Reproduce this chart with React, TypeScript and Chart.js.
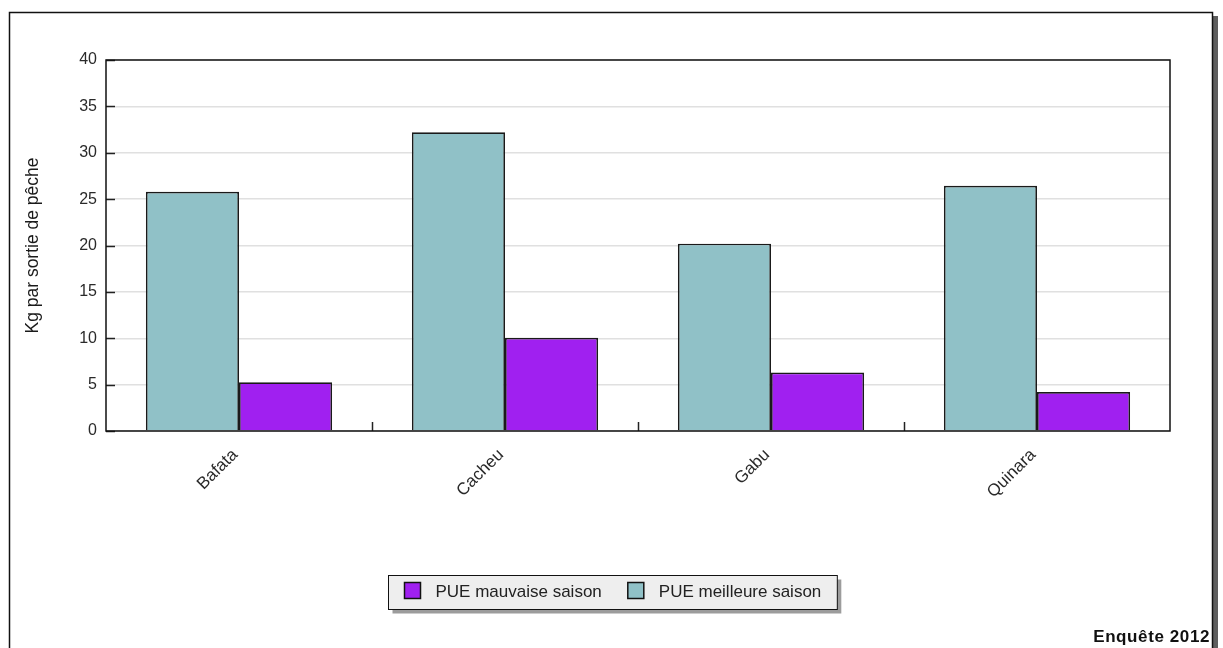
import React, { useEffect, useRef } from 'react';
import { Chart, registerables } from 'chart.js';

Chart.register(...registerables);

const categories = ['Bafata', 'Cacheu', 'Gabu', 'Quinara'];
const meilleureSaison = [25.8, 32.2, 20.2, 26.45];
const mauvaiseSaison = [5.25, 10.05, 6.3, 4.2];
const seriesLabels = ['PUE meilleure saison', 'PUE mauvaise saison'];
const seriesColors = ['#90C1C7', '#A020F0'];
const yMin = 0;
const yMax = 40;
const yStep = 5;
const yAxisTitle = 'Kg par sortie de pêche';
const footnote = 'Enquête 2012';

const FONT = '"Liberation Sans", Arial, Helvetica, sans-serif';
const W = 1223;
const H = 648;

const decorPlugin = {
  id: 'decor',
  beforeDraw(chart: any) {
    const ctx = chart.ctx;
    ctx.save();
    ctx.fillStyle = '#ffffff';
    ctx.fillRect(0, 0, chart.width, chart.height);
    // outer frame shadow
    ctx.fillStyle = '#5e5e5e';
    ctx.fillRect(1213, 16, 5, chart.height);
    // outer frame
    ctx.strokeStyle = '#111';
    ctx.lineWidth = 1.5;
    ctx.strokeRect(9.5, 12.5, 1203, chart.height + 10);
    ctx.restore();
  },
  afterDraw(chart: any) {
    const ctx = chart.ctx;
    const area = chart.chartArea;
    const xs = chart.scales.x;
    const ys = chart.scales.y;
    ctx.save();
    // inward ticks on y axis
    ctx.strokeStyle = '#222';
    ctx.lineWidth = 1.5;
    ys.ticks.forEach((t: any) => {
      const py = Math.round(ys.getPixelForValue(t.value)) + 0.5;
      ctx.beginPath();
      ctx.moveTo(area.left, py);
      ctx.lineTo(area.left + 9, py);
      ctx.stroke();
    });
    // inward ticks at category boundaries
    for (let i = 0; i < categories.length - 1; i++) {
      const px = Math.round((xs.getPixelForValue(i) + xs.getPixelForValue(i + 1)) / 2) + 0.5;
      ctx.beginPath();
      ctx.moveTo(px, area.bottom);
      ctx.lineTo(px, area.bottom - 9);
      ctx.stroke();
    }
    // plot frame
    ctx.strokeStyle = '#111';
    ctx.lineWidth = 1.5;
    ctx.strokeRect(area.left, area.top, area.right - area.left, area.bottom - area.top);

    // legend
    const ds = chart.data.datasets;
    const order = [1, 0];
    ctx.font = '17px ' + FONT;
    const sq = 16, gapText = 15, gapItem = 26, padX = 16;
    const widths = order.map((i) => ctx.measureText(ds[i].label).width);
    let total = padX * 2 + gapItem * (order.length - 1);
    widths.forEach((w) => (total += sq + gapText + w));
    const cx = 612;
    const left = Math.round(cx - total / 2) + 0.5;
    const top = 575.5;
    const lh = 34;
    ctx.fillStyle = '#9c9c9c';
    ctx.fillRect(left + 4, top + 4, total, lh);
    ctx.fillStyle = '#eeeeee';
    ctx.fillRect(left, top, total, lh);
    ctx.strokeStyle = '#111';
    ctx.lineWidth = 1;
    ctx.strokeRect(left, top, total, lh);
    let x = left + padX;
    order.forEach((i, k) => {
      ctx.fillStyle = ds[i].backgroundColor;
      ctx.fillRect(x, top + 7, sq, sq);
      ctx.strokeStyle = '#111';
      ctx.lineWidth = 1.5;
      ctx.strokeRect(x, top + 7, sq, sq);
      ctx.fillStyle = '#222';
      ctx.textBaseline = 'middle';
      ctx.textAlign = 'left';
      ctx.fillText(ds[i].label, x + sq + gapText, top + lh / 2);
      x += sq + gapText + widths[k] + gapItem;
    });

    // footnote
    ctx.font = 'bold 17px ' + FONT;
    (ctx as any).letterSpacing = '0.6px';
    ctx.fillStyle = '#111';
    ctx.textAlign = 'right';
    ctx.textBaseline = 'alphabetic';
    ctx.fillText(footnote, 1210, 642);
    (ctx as any).letterSpacing = '0px';
    ctx.restore();
  },
};

export default function App() {
  const ref = useRef<HTMLCanvasElement | null>(null);
  useEffect(() => {
    document.body.style.margin = '0';
    const canvas = ref.current;
    if (!canvas) return;
    const chart = new Chart(canvas, {
      type: 'bar',
      data: {
        labels: categories,
        datasets: [
          {
            label: seriesLabels[0],
            data: meilleureSaison,
            backgroundColor: seriesColors[0],
            borderColor: '#1a1a1a',
            borderWidth: 1.7,
            categoryPercentage: 0.7,
            barPercentage: 1.0,
          },
          {
            label: seriesLabels[1],
            data: mauvaiseSaison,
            backgroundColor: seriesColors[1],
            borderColor: '#1a1a1a',
            borderWidth: 1.7,
            categoryPercentage: 0.7,
            barPercentage: 1.0,
          },
        ],
      },
      options: {
        responsive: false,
        animation: false,
        devicePixelRatio: 1,
        layout: { padding: { left: 0, top: 60, right: 53, bottom: 0 } },
        plugins: {
          legend: { display: false },
          tooltip: { enabled: false },
        },
        scales: {
          x: {
            grid: { display: false, drawTicks: false },
            border: { display: false },
            ticks: {
              color: '#2a2a2a',
              font: { family: FONT, size: 17 },
              maxRotation: 45,
              minRotation: 45,
              padding: 14,
              labelOffset: -4,
            },
            afterFit(scale: any) {
              scale.height = 217;
            },
          },
          y: {
            min: yMin,
            max: yMax,
            grid: { color: '#e0e0e0', lineWidth: 1.5, drawTicks: false },
            border: { display: false },
            ticks: {
              stepSize: yStep,
              color: '#2a2a2a',
              font: { family: FONT, size: 16 },
              padding: 9,
            },
            title: {
              display: true,
              text: yAxisTitle,
              color: '#1a1a1a',
              font: { family: FONT, size: 17.5 },
              padding: { top: 23, bottom: 0 },
            },
            afterFit(scale: any) {
              scale.width = 106;
            },
          },
        },
      },
      plugins: [decorPlugin],
    });
    return () => chart.destroy();
  }, []);
  return (
    <div style={{ width: W, height: H, overflow: 'hidden' }}>
      <canvas ref={ref} width={W} height={H} style={{ display: 'block' }} />
    </div>
  );
}
